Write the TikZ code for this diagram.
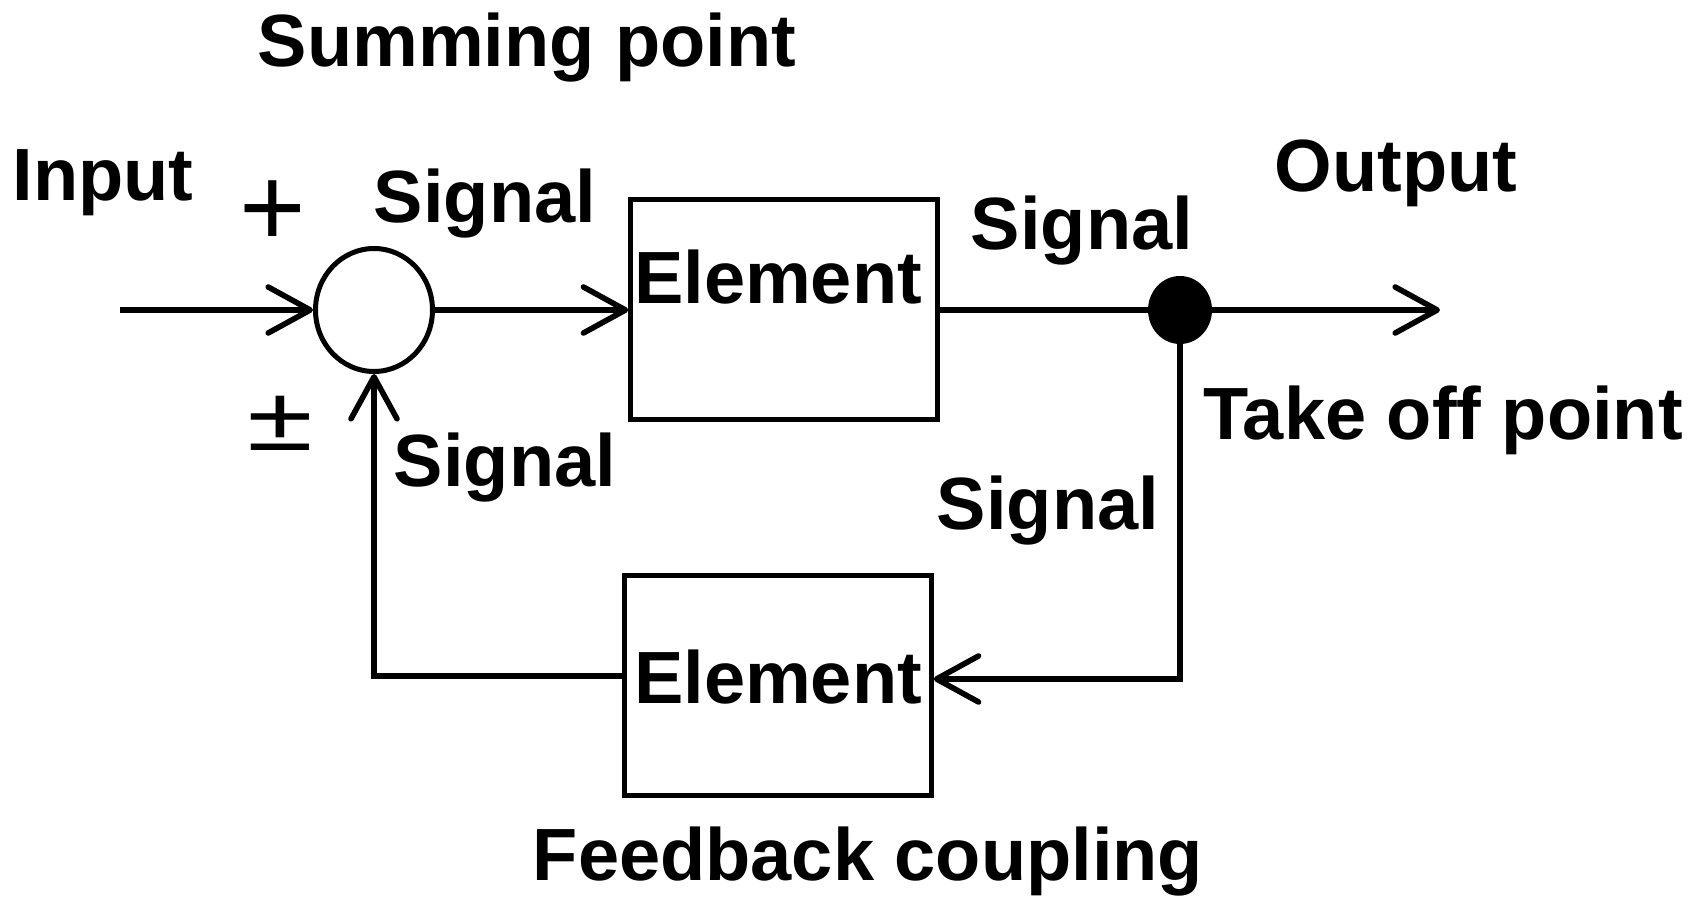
\documentclass[tikz,border=0pt]{standalone}
\usepackage{fontspec}
\usepackage{graphicx}
\setmainfont{Liberation Sans}
\usetikzlibrary{arrows.meta,shapes.geometric}
\begin{document}
\begin{tikzpicture}[x=0.5pt,y=-0.5pt,
  lbl/.style={inner sep=0pt,anchor=base,font=\bfseries\fontsize{37}{40}\selectfont},
  sgn/.style={inner sep=0pt,anchor=base,font=\fontsize{57}{60}\selectfont},
  blk/.style={draw,line width=2.25pt,minimum width=153.5pt,minimum height=110pt,inner sep=0pt,
              font=\bfseries\fontsize{37}{40}\selectfont},
  conn/.style={line width=2.8pt},
  arr/.style={conn,-{Straight Barb[length=21pt,width=23pt,line cap=round,round]}}]
\useasboundingbox (0,0) rectangle (1704,897);
% nodes
\node[draw,ellipse,line width=2.5pt,minimum width=58.5pt,minimum height=61.5pt,inner sep=0pt] (sum) at (374,310) {};
\node[blk,text height=26pt,text depth=31.5pt] (b1) at (784,309.5) {Element\hspace*{6pt}};
\node[blk,text height=26pt,text depth=7.5pt] (b2) at (778,685.5) {Element};
\node[fill,ellipse,minimum width=32pt,minimum height=34pt,inner sep=0pt] (dot) at (1180,310) {};
\coordinate (in) at (120,310);
\coordinate (out) at (1440,310);
\coordinate (fbR) at (1180,679);
\coordinate (fbL) at (374,676);
% labels
\node[lbl] (tsum) at (527,67) {Summing point};
\node[lbl] (tin) at (103,201) {Input};
\node[lbl] (ts1) at (485,223) {Signal};
\node[lbl] (ts2) at (1082,250) {Signal};
\node[lbl] (tout) at (1396,192) {Output};
\node[lbl] (ttake) at (1443,440) {Take off point};
\node[lbl] (ts3) at (505,487) {Signal};
\node[lbl] (ts4) at (1048,530) {Signal};
\node[lbl] (tfb) at (868,880) {Feedback coupling};
\node[sgn] (plus) at (273,247) {+};
\node[sgn] (pm) at (280,451) {\scalebox{1.05}[0.8]{±}};
% connectors
\draw[arr] (in) -- (sum.west);
\draw[arr] (sum.east) -- (b1.west |- sum.east);
\draw[conn] (b1.east |- dot) -- (dot.center);
\draw[arr] (dot.center) -- (out);
\draw[arr,line join=miter] (dot.center) -- (fbR) -- (fbR -| b2.east);
\draw[arr,line join=miter] (b2.west |- fbL) -- (fbL) -- (sum.south);
\end{tikzpicture}
\end{document}
